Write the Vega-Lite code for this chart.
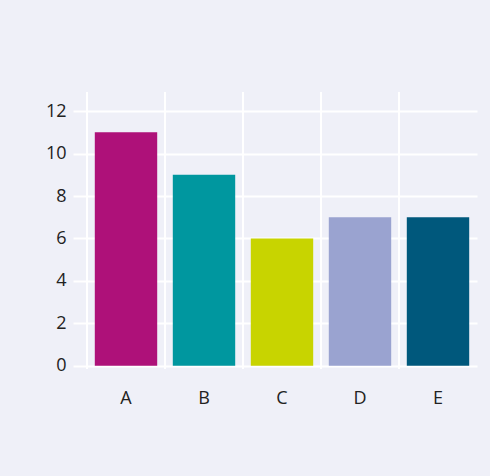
{
  "$schema": "https://vega.github.io/schema/vega-lite/v6.json",
  "width": 390,
  "height": 277,
  "autosize": {"type": "none"},
  "padding": {"left": 87, "top": 92, "right": 13, "bottom": 107},
  "background": "#eff0f8",
  "config": {
    "view": {"stroke": null},
    "font": "Open Sans",
    "axis": {
      "title": null,
      "domain": false,
      "labelFontSize": 18,
      "labelColor": "#222222"
    }
  },
  "data": {
    "values": [
      {"cat": "A", "value": 11},
      {"cat": "B", "value": 9},
      {"cat": "C", "value": 6},
      {"cat": "D", "value": 7},
      {"cat": "E", "value": 7}
    ]
  },
  "encoding": {
    "x": {
      "field": "cat",
      "type": "nominal",
      "scale": {"paddingInner": 0, "paddingOuter": 0},
      "axis": {
        "title": null,
        "domain": false,
        "ticks": false,
        "grid": false,
        "bandPosition": 0.5,
        "labelAngle": 0,
        "labelFontSize": 18,
        "labelColor": "#222222",
        "labelPadding": 20
      }
    }
  },
  "layer": [
    {
      "mark": {"type": "rule", "color": "white", "strokeWidth": 2},
      "encoding": {
        "x": {
          "field": "cat",
          "type": "nominal",
          "bandPosition": 0,
          "scale": {"paddingInner": 0, "paddingOuter": 0},
          "axis": {
            "title": null,
            "domain": false,
            "ticks": false,
            "grid": false,
            "bandPosition": 0.5,
            "labelAngle": 0,
            "labelFontSize": 18,
            "labelColor": "#222222",
            "labelPadding": 20
          }
        }
      }
    },
    {
      "mark": {"type": "bar", "width": {"band": 0.8}},
      "encoding": {
        "y": {
          "field": "value",
          "type": "quantitative",
          "scale": {"domain": [-0.15, 12.9], "nice": false, "zero": false},
          "axis": {
            "title": null,
            "domain": false,
            "values": [0, 2, 4, 6, 8, 10, 12],
            "grid": true,
            "gridColor": "white",
            "gridWidth": 2,
            "gridOpacity": 1,
            "tickColor": "white",
            "tickSize": 14,
            "tickWidth": 2,
            "labelFontSize": 18,
            "labelColor": "#222222",
            "labelPadding": 7
          }
        },
        "color": {
          "field": "cat",
          "type": "nominal",
          "scale": {
            "domain": ["A", "B", "C", "D", "E"],
            "range": ["#ae1179", "#00979f", "#c8d400", "#9aa3d0", "#00587c"]
          },
          "legend": null
        }
      }
    }
  ]
}
